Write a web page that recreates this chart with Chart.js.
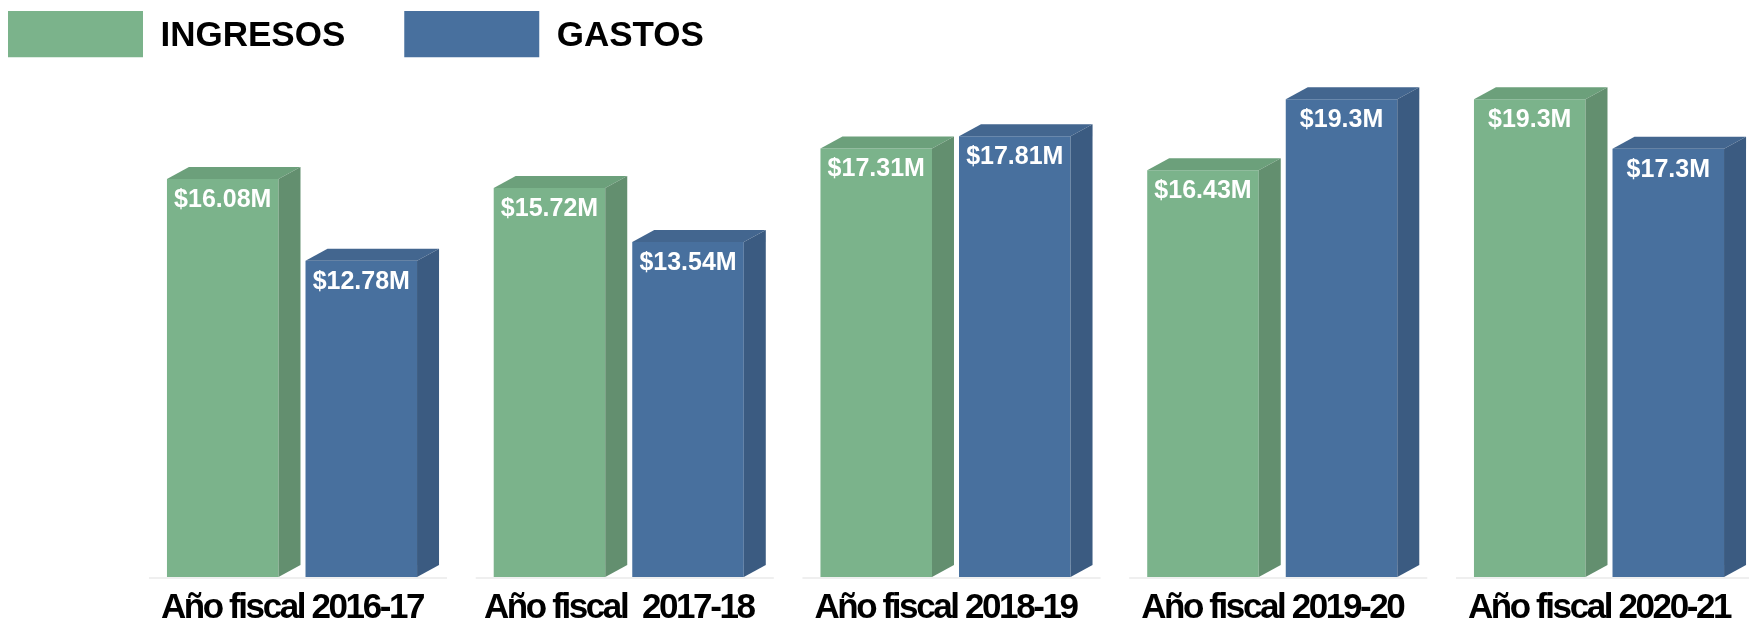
<!DOCTYPE html>
<html>
<head>
<meta charset="utf-8">
<script src="https://cdn.jsdelivr.net/npm/chart.js@4.4.1/dist/chart.umd.min.js"></script>
<style>
  html, body { margin: 0; padding: 0; background: #fff; overflow: hidden; }
  #wrap { width: 1749px; height: 623px; }
</style>
</head>
<body>
<div id="wrap"><canvas id="myChart"></canvas></div>
<script>
const years = ['Año fiscal 2016-17', 'Año fiscal  2017-18', 'Año fiscal 2018-19', 'Año fiscal 2019-20', 'Año fiscal 2020-21'];
const ingresos = [16.08, 15.72, 17.31, 16.43, 19.3];
const gastos = [12.78, 13.54, 17.81, 19.3, 17.3];
const seriesNames = ['INGRESOS', 'GASTOS'];

// depth of the fake 3d faces
const DX = 22;
const DY = 12;

const bars3d = {
  id: 'bars3d',
  beforeDatasetsDraw(chart) {
    const ctx = chart.ctx;
    const m0 = chart.getDatasetMeta(0), m1 = chart.getDatasetMeta(1);
    ctx.save();
    ctx.strokeStyle = '#efefef';
    ctx.lineWidth = 2;
    m0.data.forEach((b, j) => {
      const b2 = m1.data[j];
      ctx.beginPath();
      ctx.moveTo(b.x - b.width / 2 - 18, b.base + 1);
      ctx.lineTo(b2.x + b2.width / 2 + 30, b2.base + 1);
      ctx.stroke();
    });
    ctx.restore();
  },
  afterDatasetsDraw(chart) {
    const ctx = chart.ctx;
    chart.data.datasets.forEach((ds, i) => {
      const meta = chart.getDatasetMeta(i);
      meta.data.forEach((bar, j) => {
        const { x, y, width, base } = bar.getProps(['x', 'y', 'width', 'base'], true);
        const l = x - width / 2, r = x + width / 2;
        ctx.save();
        // top face
        ctx.fillStyle = ds.topColor;
        ctx.beginPath();
        ctx.moveTo(l, y);
        ctx.lineTo(l + DX, y - DY);
        ctx.lineTo(r + DX, y - DY);
        ctx.lineTo(r, y);
        ctx.closePath();
        ctx.fill();
        // side face
        ctx.fillStyle = ds.sideColor;
        ctx.beginPath();
        ctx.moveTo(r, y);
        ctx.lineTo(r + DX, y - DY);
        ctx.lineTo(r + DX, base - DY);
        ctx.lineTo(r, base);
        ctx.closePath();
        ctx.fill();
        // value label
        ctx.fillStyle = '#fff';
        ctx.font = 'bold 25px "Liberation Sans", Arial, sans-serif';
        ctx.textAlign = 'center';
        ctx.textBaseline = 'middle';
        ctx.fillText('$' + ds.data[j] + 'M', x, y + 21);
        ctx.restore();
      });
    });
    // x tick labels (ticks.z = 1) are drawn after this point: tighten them
    ctx.letterSpacing = '-2.4px';
  },
  afterDraw(chart) {
    chart.ctx.letterSpacing = '0px';
  }
};

const myChartRef = document.getElementById('myChart').getContext('2d');
new Chart(myChartRef, {
  type: 'bar',
  data: {
    labels: years,
    datasets: [
      {
        label: seriesNames[0],
        data: ingresos,
        backgroundColor: '#7bb38b',
        topColor: '#6ca07b',
        sideColor: '#638f6f'
      },
      {
        label: seriesNames[1],
        data: gastos,
        backgroundColor: '#48709e',
        topColor: '#43668f',
        sideColor: '#3b5b81'
      }
    ]
  },
  plugins: [bars3d],
  options: {
    responsive: true,
    maintainAspectRatio: false,
    animation: false,
    events: [],
    layout: { padding: { left: -51, top: -48, right: 0, bottom: 0 } },
    datasets: {
      bar: {
        categoryPercentage: 0.848,
        barPercentage: 0.805,
        borderWidth: 0,
        clip: false
      }
    },
    plugins: {
      tooltip: { enabled: false },
      legend: {
        position: 'top',
        align: 'start',
        maxHeight: 105.25,
        labels: {
          boxWidth: 135,
          boxHeight: 51,
          padding: 59,
          color: '#000',
          font: { family: '"Liberation Sans", Arial, sans-serif', size: 35, weight: 'bold' }
        }
      }
    },
    scales: {
      x: {
        offset: false,
        grid: { display: false, drawTicks: false },
        border: { display: false },
        ticks: {
          z: 1,
          autoSkip: false,
          maxRotation: 0,
          padding: 14,
          color: '#000',
          font: { family: '"Liberation Sans", Arial, sans-serif', size: 35, weight: 'bold', lineHeight: 1 }
        },
        afterFit(scale) {
          scale.height = 46;
          // labels may overhang the side spacers, do not shrink the plot for them
          scale.paddingLeft = 0;
          scale.paddingRight = 0;
        }
      },
      y: {
        min: 0,
        max: 21,
        position: 'left',
        grid: { display: false },
        border: { display: false },
        ticks: { display: false },
        afterFit(scale) { scale.width = 343; }
      },
      yRight: {
        min: 0,
        max: 21,
        position: 'right',
        grid: { display: false },
        border: { display: false },
        ticks: { display: false },
        afterFit(scale) { scale.width = 150; }
      }
    }
  }
});
</script>
</body>
</html>
